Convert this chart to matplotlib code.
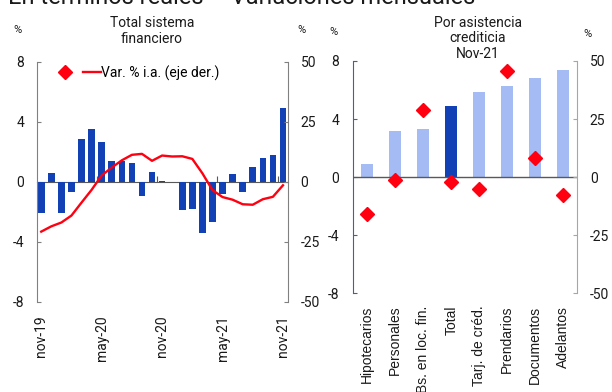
import matplotlib
matplotlib.use("Agg")
import matplotlib.pyplot as plt
from matplotlib.lines import Line2D
from matplotlib.legend_handler import HandlerTuple

plt.rcParams['font.family'] = ['Roboto', 'DejaVu Sans']
plt.rcParams['axes.unicode_minus'] = False

# ---------------- data ----------------
months = ["nov-19", "dic-19", "ene-20", "feb-20", "mar-20", "abr-20", "may-20",
          "jun-20", "jul-20", "ago-20", "sep-20", "oct-20", "nov-20", "dic-20",
          "ene-21", "feb-21", "mar-21", "abr-21", "may-21", "jun-21", "jul-21",
          "ago-21", "sep-21", "oct-21", "nov-21"]
monthly_var = [-2.06, 0.58, -2.10, -0.67, 2.86, 3.49, 2.66, 1.39, 1.37, 1.25,
               -0.98, 0.67, 0.02, -0.02, -1.88, -1.79, -3.42, -2.68, -0.83,
               0.49, -0.69, 0.98, 1.59, 1.79, 4.92]
yoy_var = [-20.8, -18.6, -17.0, -14.1, -8.7, -3.4, 2.6, 5.9, 8.9, 11.2,
           11.6, 8.7, 10.9, 10.5, 10.6, 9.5, 3.5, -3.5, -6.4, -7.5, -9.4,
           -9.6, -7.3, -6.3, -1.5]
month_tick_labels = ["nov-19", "may-20", "nov-20", "may-21", "nov-21"]

categories = ["Hipotecarios", "Personales", "Bs. en loc. fin.", "Total",
              "Tarj. de créd.", "Prendarios", "Documentos", "Adelantos"]
cat_monthly = [0.90, 3.17, 3.33, 4.90, 5.89, 6.25, 6.83, 7.36]
cat_yoy = [-15.7, -1.4, 28.9, -2.0, -4.9, 45.7, 8.3, -7.5]

# ---------------- style ----------------
DARK_BLUE = "#1241B6"
LIGHT_BLUE = "#A4BCF3"
RED = "#FF0010"
GREY = "#808080"
TXT = "#1a1a1a"
FS = 10

fig = plt.figure(figsize=(6.12, 3.92), dpi=100)

fig.text(8 / 612, 1 - 4 / 392, "En términos reales – Variaciones mensuales",
         fontsize=17, ha='left', va='baseline', color=TXT)

# ---------------- left panel ----------------
ax = fig.add_axes([36.7 / 612, 1 - 301.7 / 392, (288 - 36.7) / 612, 240 / 392])
x = list(range(len(months)))
ax.bar(x, monthly_var, width=0.65, color=DARK_BLUE, zorder=2)
ax.set_ylim(-8, 8)
ax.set_xlim(-0.45, 24.5)
ax.set_yticks([-8, -4, 0, 4, 8])
ax.tick_params(axis='y', direction='in', length=3, pad=9, labelsize=FS,
               color=GREY, labelcolor=TXT)
ax.spines['top'].set_visible(False)
ax.spines['right'].set_visible(False)
ax.spines['left'].set_color(GREY)
ax.spines['bottom'].set_position(('data', 0))
ax.spines['bottom'].set_color("#595959")
ax.spines['bottom'].set_zorder(1)
ax.set_xticks([5.5, 11.5, 17.5, 23.5])
ax.set_xticklabels([])
ax.tick_params(axis='x', direction='in', length=4, color="#595959")

sec = ax.secondary_xaxis(0.0)
sec.set_xticks([months.index(m) for m in month_tick_labels])
sec.set_xticklabels(month_tick_labels, rotation=90, fontsize=FS, color=TXT)
sec.tick_params(length=0, pad=10)
sec.spines['bottom'].set_visible(False)

ax2 = ax.twinx()
ax2.plot(x, yoy_var, color=RED, lw=1.7, zorder=3)
ax2.set_ylim(-50, 50)
ax2.set_yticks([-50, -25, 0, 25, 50])
ax2.tick_params(axis='y', direction='in', length=3, pad=9, labelsize=FS,
                color=GREY, labelcolor=TXT)
for s in ['top', 'bottom', 'left']:
    ax2.spines[s].set_visible(False)
ax2.spines['right'].set_color(GREY)

h_d = Line2D([], [], marker='D', color=RED, ls='none', markersize=7)
h_l = Line2D([], [], color=RED, lw=1.7)
ax2.legend([(h_d, h_l)], ["Var. % i.a. (eje der.)"],
           handler_map={tuple: HandlerTuple(ndivide=None, pad=0.6)},
           loc='upper left', bbox_to_anchor=(0.045, 1.02), frameon=False,
           fontsize=FS, handlelength=3.2, handletextpad=0.0, borderaxespad=0.2)

fig.text(152 / 612, 1 - 31 / 392, "Total sistema\nfinanciero", ha='center',
         va='center', fontsize=FS, color=TXT, linespacing=1.15)
fig.text(18 / 612, 1 - 30 / 392, "%", ha='center', va='center', fontsize=8, color=TXT)
fig.text(301 / 612, 1 - 30 / 392, "%", ha='center', va='center', fontsize=8, color=TXT)

# ---------------- right panel ----------------
ax3 = fig.add_axes([353.3 / 612, 1 - 293.3 / 392, (577.3 - 353.3) / 612, 232.3 / 392])
xc = list(range(len(categories)))
colors = [DARK_BLUE if c == "Total" else LIGHT_BLUE for c in categories]
ax3.bar(xc, cat_monthly, width=0.43, color=colors, zorder=2)
ax3.set_ylim(-8, 8)
ax3.set_xlim(-0.5, 7.5)
ax3.set_yticks([-8, -4, 0, 4, 8])
ax3.tick_params(axis='y', direction='in', length=3, pad=10, labelsize=FS,
                color="#4A5C9C", labelcolor=TXT)
ax3.axhline(0, color="#595959", lw=1, zorder=3)
ax3.spines['top'].set_visible(False)
ax3.spines['right'].set_visible(False)
ax3.spines['bottom'].set_visible(False)
ax3.spines['left'].set_color("#4A5C9C")
ax3.set_xticks(xc)
ax3.set_xticklabels(categories, rotation=90, fontsize=FS, color=TXT,
                    family=['Liberation Sans', 'DejaVu Sans'])
ax3.tick_params(axis='x', length=0, pad=9)

ax4 = ax3.twinx()
ax4.plot(xc, cat_yoy, marker='D', ls='none', color=RED, markersize=7.5, zorder=4)
ax4.set_ylim(-50, 50)
ax4.set_yticks([-50, -25, 0, 25, 50])
ax4.tick_params(axis='y', direction='in', length=3, pad=9, labelsize=FS,
                color="#A6A6A6", labelcolor=TXT)
for s in ['top', 'bottom', 'left']:
    ax4.spines[s].set_visible(False)
ax4.spines['right'].set_color("#A6A6A6")

fig.text(477.7 / 612, 1 - 38.5 / 392, "Por asistencia\ncrediticia\nNov-21",
         ha='center', va='center', fontsize=FS, color=TXT, linespacing=1.15)
fig.text(333 / 612, 1 - 32 / 392, "%", ha='center', va='center', fontsize=8, color=TXT)
fig.text(587 / 612, 1 - 34 / 392, "%", ha='center', va='center', fontsize=8, color=TXT)

fig.savefig("out.png", dpi=100)
